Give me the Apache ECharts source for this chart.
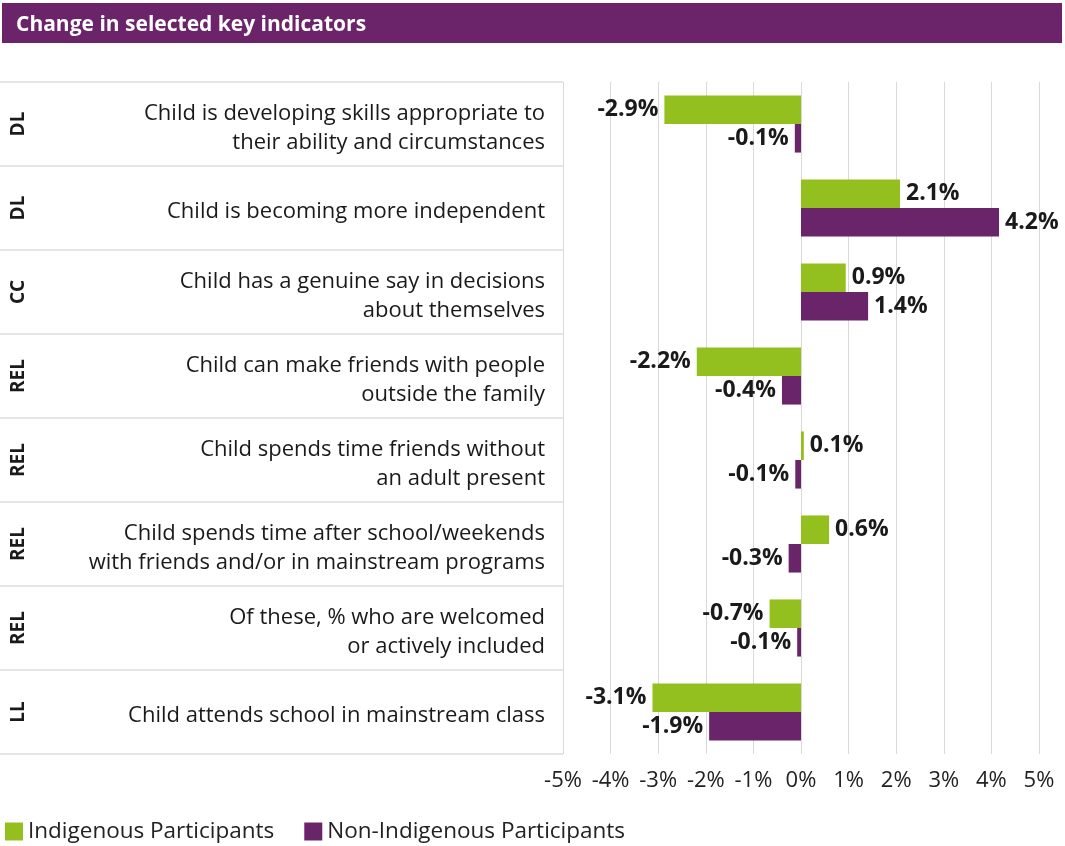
<!DOCTYPE html>
<html>
<head>
<meta charset="utf-8">
<script src="https://cdn.jsdelivr.net/npm/echarts@6/dist/echarts.min.js"></script>
<style>
html,body{margin:0;padding:0;background:#fff;}
#chart{width:1065px;height:846px;}
</style>
</head>
<body>
<div id="chart"></div>
<script>
// ---- data ----
var categories = [
  "Child is developing skills appropriate to\ntheir ability and circumstances",
  "Child is becoming more independent",
  "Child has a genuine say in decisions\nabout themselves",
  "Child can make friends with people\noutside the family",
  "Child spends time friends without\nan adult present",
  "Child spends time after school/weekends\nwith friends and/or in mainstream programs",
  "Of these, % who are welcomed\nor actively included",
  "Child attends school in mainstream class"
];
var groups = ["DL", "DL", "CC", "REL", "REL", "REL", "REL", "LL"];
var indigenous = [-2.87, 2.08, 0.94, -2.19, 0.06, 0.59, -0.66, -3.12];
var nonIndigenous = [-0.13, 4.16, 1.41, -0.4, -0.12, -0.26, -0.08, -1.93];
var seriesNames = ["Indigenous Participants", "Non-Indigenous Participants"];
var xTicks = [-5, -4, -3, -2, -1, 0, 1, 2, 3, 4, 5];

var GREEN = "#93C01F", PURPLE = "#6A2469";
var FONT = "Open Sans";

function items(arr) {
  return arr.map(function (v) {
    return { value: v, label: { position: v < 0 ? "left" : "right" } };
  });
}

var chart = echarts.init(document.getElementById("chart"));
chart.setOption({
  backgroundColor: "#fff",
  animation: false,
  textStyle: { fontFamily: FONT },
  graphic: [
    { type: "rect", left: 2, top: 3, shape: { width: 1060, height: 40 }, style: { fill: "#6B2469" }, z: 0 }
  ],
  title: {
    text: "Change in selected key indicators",
    left: 11, top: 10,
    textStyle: { color: "#fff", fontSize: 21, fontWeight: "bold", fontFamily: FONT }
  },
  legend: {
    left: 0, top: 815,
    itemWidth: 18, itemHeight: 18, itemGap: 30,
    icon: "rect",
    textStyle: { fontSize: 22.5, color: "#222", fontFamily: FONT },
    data: seriesNames
  },
  grid: [
    { left: 563, right: 26, top: 82, bottom: 92, containLabel: false },
    { left: 0, width: 563, top: 82, bottom: 92, containLabel: false }
  ],
  xAxis: [
    {
      gridIndex: 0, type: "value", min: xTicks[0], max: xTicks[xTicks.length - 1], interval: 1,
      axisLine: { show: false }, axisTick: { show: false },
      splitLine: { show: true, lineStyle: { color: "#d9d9d9", width: 1 } },
      axisLabel: { formatter: "{value}%", fontSize: 22, color: "#222", margin: 16, fontFamily: FONT }
    },
    { gridIndex: 1, type: "value", show: false }
  ],
  yAxis: [
    {
      gridIndex: 0, type: "category", inverse: true, data: categories,
      axisLine: { show: false }, axisTick: { show: false }, splitLine: { show: false },
      axisLabel: {
        fontSize: 22, color: "#1a1a1a", margin: 18, lineHeight: 29, align: "right", fontFamily: FONT,
        formatter: function (v) {
          return "{s|}\n" + v.split("\n").map(function (l) { return "{t|" + l + "}"; }).join("\n");
        },
        rich: {
          s: { lineHeight: 8, height: 8, fontSize: 4 },
          t: { fontSize: 22, lineHeight: 29, color: "#1a1a1a", fontFamily: FONT }
        }
      }
    },
    {
      gridIndex: 1, type: "category", inverse: true, data: categories,
      axisLine: { show: false }, axisTick: { show: false },
      splitLine: { show: true, lineStyle: { color: "#dcdcdc", width: 1.5 } },
      axisLabel: {
        inside: true, rotate: 90, margin: 9, fontSize: 19, fontWeight: "bold", color: "#1a1a1a", fontFamily: FONT,
        formatter: function (v, i) { return groups[i]; }
      }
    }
  ],
  series: [
    {
      name: seriesNames[0], type: "bar", xAxisIndex: 0, yAxisIndex: 0,
      data: items(indigenous), barGap: "0%", barCategoryGap: "32%",
      itemStyle: { color: GREEN },
      label: { show: true, distance: 6, fontSize: 23, fontWeight: "bold", color: "#1a1a1a", fontFamily: FONT,
        formatter: function (p) { return p.value.toFixed(1) + "%"; } }
    },
    {
      name: seriesNames[1], type: "bar", xAxisIndex: 0, yAxisIndex: 0,
      data: items(nonIndigenous), barGap: "0%", barCategoryGap: "32%",
      itemStyle: { color: PURPLE },
      label: { show: true, distance: 6, fontSize: 23, fontWeight: "bold", color: "#1a1a1a", fontFamily: FONT,
        formatter: function (p) { return p.value.toFixed(1) + "%"; } }
    }
  ]
});
</script>
</body>
</html>
